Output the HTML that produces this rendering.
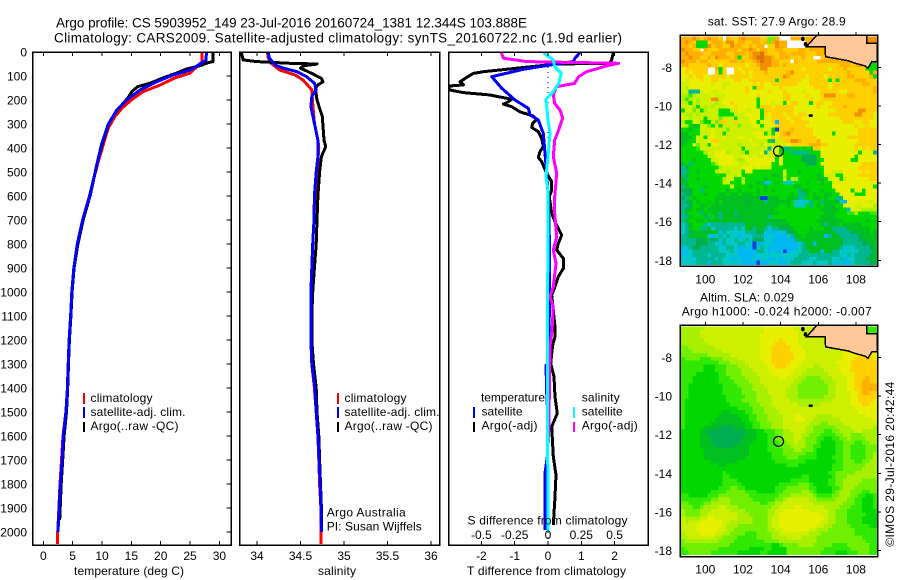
<!DOCTYPE html>
<html lang="en">
<head>
<meta charset="utf-8">
<title>Argo profile CS 5903952_149</title>
<style>
html,body{margin:0;padding:0;background:#fff;width:900px;height:580px;overflow:hidden}
svg{display:block}
text{font-family:"Liberation Sans",sans-serif;font-size:12px;fill:#000}
</style>
</head>
<body>
<svg id="chart" xmlns="http://www.w3.org/2000/svg" width="900" height="580" viewBox="0 0 900 580">
  <text x="56" y="27.5" style="font-size:13.5px" textLength="471" lengthAdjust="spacing">Argo profile: CS 5903952_149 23-Jul-2016 20160724_1381 12.344S 103.888E</text>
  <text x="54" y="42.5" style="font-size:13.5px" textLength="568" lengthAdjust="spacing">Climatology: CARS2009. Satellite-adjusted climatology: synTS_20160722.nc (1.9d earlier)</text>

  <g id="heat-sst"></g>
  <g id="heat-sla"></g>
  <g id="marks"></g>

  <text x="74" y="575" textLength="110">temperature (deg C)</text>
  <text x="318" y="575" textLength="38">salinity</text>
  <text x="467" y="575" textLength="159">T difference from climatology</text>
  <text x="467.5" y="524.5" textLength="160">S difference from climatology</text>

  <text x="90.5" y="402" textLength="62">climatology</text>
  <text x="90.5" y="416" textLength="95">satellite-adj. clim.</text>
  <text x="90.5" y="430" textLength="88">Argo(..raw -QC)</text>
  <rect x="83" y="393" width="2" height="11" fill="#f00"/>
  <rect x="83" y="407" width="2" height="11" fill="#00f"/>
  <rect x="83" y="422" width="2" height="10" fill="#000"/>

  <text x="344.5" y="402" textLength="62">climatology</text>
  <text x="344.5" y="416" textLength="95">satellite-adj. clim.</text>
  <text x="344.5" y="430" textLength="88">Argo(..raw -QC)</text>
  <rect x="337" y="393" width="2" height="11" fill="#f00"/>
  <rect x="337" y="407" width="2" height="11" fill="#00f"/>
  <rect x="337" y="422" width="2" height="10" fill="#000"/>
  <text x="326.7" y="516.7" textLength="79">Argo Australia</text>
  <text x="326.7" y="530.7" textLength="95">PI: Susan Wijffels</text>

  <text x="481" y="401.7" textLength="64">temperature</text>
  <text x="481.5" y="415.7" textLength="41">satellite</text>
  <text x="481.5" y="429.7" textLength="56">Argo(-adj)</text>
  <rect x="473" y="407" width="2" height="11" fill="#00f"/>
  <rect x="473" y="422" width="2" height="10" fill="#000"/>
  <text x="581.7" y="401.7" textLength="38">salinity</text>
  <text x="581.7" y="415.7" textLength="41">satellite</text>
  <text x="581.7" y="429.7" textLength="56">Argo(-adj)</text>
  <rect x="573" y="407" width="2" height="11" fill="#0ff"/>
  <rect x="573" y="422" width="2" height="10" fill="#f0f"/>

  <text x="707.7" y="25.7" textLength="138">sat. SST: 27.9 Argo: 28.9</text>
  <text x="700" y="301.7" textLength="94">Altim. SLA: 0.029</text>
  <text x="681.7" y="315.7" textLength="190">Argo h1000: -0.024 h2000: -0.007</text>
  <text transform="translate(894,546.7) rotate(-90)" textLength="165">©IMOS 29-Jul-2016 20:42:44</text>
</svg>
<script>
/* ---------- depth-profile data ---------- */
var depthTicks = [0,100,200,300,400,500,600,700,800,900,1000,1100,1200,1300,1400,1500,1600,1700,1800,1900,2000];
var tempTicks = [0,5,10,15,20,25,30];
var salTicks = [34,34.5,35,35.5,36];
var salTickLabels = ['34','34.5','35','35.5','36'];
var tDiffTicks = [-2,-1,0,1,2];
var sDiffTicks = [-0.5,-0.25,0,0.25,0.5];
var sDiffTickLabels = ['-0.5','-0.25','0','0.25','0.5'];
var lonTicks = [100,102,104,106,108];
var latTicks = [-8,-10,-12,-14,-16,-18];

var climTDepth = [0,40,67,88,108,138,165,200,234,269,317,387,471,596,700,800,900,1000,1100,1200,1300,1400,1500,1600,1700,1800,1900,2000,2050];
var climTValue = [27.0,27.05,25.9,25,22.4,19.9,17,15,13.4,12.2,11.05,10.2,9.2,7.9,6.7,5.8,5.2,4.85,4.65,4.4,4.25,4.1,3.85,3.35,3.1,2.85,2.65,2.45,2.45];
var satTDepth = [0,35,46,75,96,124,158,200,242,304,387,471,596,700,800,900,1000,1100,1200,1300,1400,1500,1600,1700,1800,1900,2000];
var satTValue = [27.8,27.7,27,25,22.1,19.3,16.5,14.2,12.5,11,9.9,9.1,7.95,6.7,5.8,5.2,4.85,4.65,4.4,4.25,4.1,3.85,3.4,3.2,2.9,2.7,2.5];
var argoTDepth = [0,40,45,57,71,88,108,130,144,165,192,221,248,296,360,450,596,700,800,900,1000,1100,1200,1300,1400,1500,1600,1700,1800,1950];
var argoTValue = [28.9,28.9,28,26.7,24.4,22.7,20.4,18.2,16.1,15.1,14.4,13.35,12.4,11.2,10.3,9.3,8,6.8,5.9,5.25,4.9,4.7,4.45,4.3,4.15,3.95,3.55,3.3,3.05,2.8];

var climSDepth = [0,25,46,75,96,117,158,214,297,367,400,500,600,700,800,900,1000,1100,1200,1300,1400,1500,1600,1700,1800,1900,2050];
var climSValue = [34.12,34.13,34.16,34.26,34.44,34.53,34.63,34.64,34.66,34.7,34.71,34.69,34.67,34.655,34.64,34.63,34.62,34.62,34.62,34.63,34.66,34.68,34.7,34.71,34.72,34.735,34.735];
var satSDepth = [0,25,54,67,82,103,130,158,186,228,297,367,436,500,600,700,800,900,1000,1100,1200,1300,1400,1500,1600,1700,1800,1900,2000];
var satSValue = [34.13,34.14,34.21,34.3,34.46,34.57,34.66,34.68,34.63,34.62,34.66,34.7,34.7,34.68,34.66,34.655,34.64,34.63,34.62,34.62,34.62,34.63,34.665,34.68,34.7,34.715,34.725,34.735,34.74];
var argoSDepth = [0,33,40,47,50,58,67,89,110,124,137,151,200,269,367,394,436,500,600,700,800,900,1000,1100,1200,1300,1400,1500,1600,1700,1800,1900,2000];
var argoSValue = [33.82,33.84,34,34.38,34.69,34.53,34.5,34.63,34.74,34.76,34.7,34.67,34.69,34.75,34.77,34.79,34.74,34.72,34.7,34.69,34.68,34.66,34.64,34.63,34.63,34.65,34.68,34.69,34.71,34.72,34.73,34.74,34.74];

var diffTArgoDepth = [3,33,47,50,82,89,110,124,137,142,158,169,179,197,207,217,228,249,267,281,297,314,332,360,394,415,439,457,506,540,575,603,672,707,763,797,825,860,902,936,978,1013,1075,1145,1186,1221,1297,1353,1436,1506,1561,1686,1762,1853,1971];
var diffTArgoValue = [1.96,1.91,1.86,0.26,-1.94,-2.24,-2.49,-2.64,-2.54,-2.99,-2.96,-2.54,-1.74,-1.09,-1.19,-1.34,-1.09,-0.84,-0.44,-0.34,-0.46,-0.49,-0.29,-0.19,-0.14,-0.24,-0.29,-0.19,-0.04,0.11,0.11,0.04,0.11,0.21,0.41,0.31,0.26,0.46,0.46,0.31,0.21,0.11,0.16,0.21,0.21,0.14,0.08,0.18,0.21,0.28,0.11,0.16,0.24,0.21,0.16];
var diffTSatDepth = [3,26,40,54,72,103,151,200,235,262,283,339,422,506,603,770,825,1089,1297,1305,1422,1561,1686,1755,1992];
var diffTSatValue = [0.96,0.81,0.76,0.06,-0.74,-1.69,-1.39,-0.99,-0.59,-0.54,-0.29,-0.14,-0.09,-0.04,0.01,0.04,0.04,0.04,0.02,-0.06,-0.04,0.01,-0.02,-0.09,-0.09];
var diffSSatDepth = [3,33,61,89,131,165,197,283,339,436,520,575,770,1200,2000];
var diffSSatValue = [-0.035,0.04,0.05,0.1,0.08,0.04,-0.015,0,0.015,0,-0.015,0,0,-0.005,0];
var diffSArgoDepth = [3,26,40,47,54,82,103,131,144,179,214,242,276,325,367,436,506,603,672,770,825,881,978,1020,1061,1159,1228,1436,1600];
var diffSArgoValue = [-0.35,-0.335,-0.16,0.53,0.465,0.29,0.23,0.2,0.065,0.04,0.05,0.09,0.11,0.08,0.05,0.04,0.065,0.05,0.05,0.065,0.04,0.06,0.04,0.015,0.04,0.03,0.015,0.01,0.005];

/* ---------- map data: one letter per cell, ordered low to high on the colour ramp, w = no data ---------- */
var sstRows = [
"lllmlklmllkwlkklmllllkkhhlwwwlllklllllllllllllllmmmm",
"lmlkgggklllkmmkllkkllklhlmllwwwwwlllllllllllllllmmmm",
"llklgggmkllkkmllkklkllwkkmllwwwwwmllllllllllllllllmm",
"mllkkwlkkklllllkllmlkllkkllkkkkllkllllllllllllllllll",
"lmllllkkllllkklllklmmnlkkkllkllllkkkllllllllllllllll",
"llmllkklkmlllklgkklmnnmmlklllkkklkkwwklllllllllllllll",
"mlllkllkkkkkkllklkklmnmmllkkkwlkkkkklllllllllllllllm",
"llkkkkklkkjkkkkkkjkklmmmllklkkkkkkkkkkkkkklllklllggg",
"jkkkkkkwwlgkwwkjkkkkkmmkkkkkkkkkjkkkkkkjkkklkkkkkggg",
"jkjkkkkwwkgkwwkkjkjkkklkkkkklmkkkkkkkkkkkkkklkkkkkgl",
"jjkjkkjjkkkkjkkkkkjkkkkkkkkmlkkkkjkkkkjkkkkkllkkkklg",
"jijjjkjjkkjjjjkkjjkkkkkkkgkkkkkkjjkkkkkgkgkkkklllkkk",
"iijjjjjjijjiijjjjjjkjkjjkkkkkkkjjjkkkkkjkkkkkkkkllkk",
"iqjjjjjjjjjijjjjjkjgkkjjjjkjjjjjjjjkkkkjkkkkkkkkkkkl",
"iidddijjiijjjjjjjkjjjjjkjjjkjjjjijjjjkkkkkjjkkkkkkkl",
"qqpqiiiijiiijjjjjjjjkjjjjjjkkjjjjkjjjkmmmkkkllkkkkkk",
"qpqiqiiimmijjjjjjjjjgjjjjjjkkjjjjjkjjkkkkkkkkkkkkkkk",
"iqgiqiiiiqijjkjjjjjjgjjjijjgjkkjjjgjkkjjkkkkkkkkkkkk",
"iiiqgiqiqiiijjkjjjjjgkkkjkkkkkjjjjjjkjjkkkklkkkkkkkk",
"giihigqiiigggiijjiijjgkkkkkkkkjjjjjjjjjjjkkkkkkmmkkk",
"iqqiqiiiiiggggiiijjjjgkjkkkjkkjkkjjjjjjkkkkkkkmmkkkj",
"iiqiiigiiihiiigiiijjjgijkkkkjkkkjjjjjjjjjjkkkkkkkkkj",
"qggiihggihkkiikiiijjgijjkbkkkjkkkkjjjjjjjjjkkkjjkkjj",
"iqgffiihgigiiiihiiijjgijjkkkkkkkkjjjjjjjjjjjjjkjjkjj",
"ggfggiiijiiihiiiiiiiiijigakkklkkkkkjjjjjjjjjjjjkkkkk",
"ffgggiiijiigiiiiiiijjjgigjklmkkkkkkjjjjjgjjjjjjkkkkk",
"fffgiigjjiijiiijjiiijjjjkjkkkkkkkkkkjjjjjjjjkkkkkkkk",
"ffggiiijkkiiiiiiiijiiiigdiikkmmlkkkkljjjjjjjjjjkkkkk",
"fggihiigjjiiiiiqiiijiqjiiiiijkkkkklllkkjjjjjjjkkkkkk",
"ggggpiiiiiiiiiiigiiiiiidjjgddggggggkkjjjjjjjjjkjkjkk",
"ggggggqiijjjqiiiqgiiijdiijgggdddddgggjjjjjjjjjjgjjjd",
"gggggggiijjjjjiijjijiijiigjgggggeeeegjjjjjjjjjgjjjjj",
"gggfggggiijjjjiqqjjjjjjjjgjgggggeeeeggjjjjjjjggjjjjj",
"fgdgggggpqjjjjjiiijjjjjjggjggggggeeegjjjjjjjjjjjkkkk",
"deggggggggqiiiiijjjijiiiggggggggggggggjjjjjjjjjkkkkk",
"ddggfggggqiiqiiigjjggggggggigggfggggggjjiiijjjjjkjkk",
"dfggggggggggiiqjggggggggffgiggggggggfgiiiggjjjjkkkkk",
"fdggfggggggqiiggqgggggfggggigqqgggggffgijjgijjjjjjkk",
"ffgggggggggiigggqgggffbcgfgcccgggfgggfggijjjjjjjjjjj",
"dfggggfggggggiggggfgggfgggggggffggggggggjjjjjjjjjjjg",
"eeeggdggggggfggfggggfgfgfggggggdffgggfgggjjjjgjjgjjj",
"deegggfgggffgffgfffgfggggggggfgddfgfggffggjjjjgggjjj",
"edgfgggggffffffffffffaafffggfffddggffgfggddjjjjjjjjj",
"deegfggfgfgffffffeffffdffffffgccccdggdffffcbjjjjjiij",
"ddeggffgffffffffffffffffffggfgcccgdgfgfffggjjjiijjjq",
"defgffgffffffffffffffffffggggggggggggfffffggbjiiqqqq",
"dfgggdfgffdfffdfffffffffffggggggggggggfffgggppqgggpp",
"ddfgggfdgfdffffefffffffdgggggggggggggffffgggggggggg",
"dfggffgffffffffffffffffffeffggggggggfffffffggggggfgg",
"cdfgggdcdddddddddffffffdfffffggggggggfdfffgfffffggg",
"cdfggddfcdddddcdcffdffdcddeeefggggfgggffddddffffffgg",
"cdefffffffbdcccccdddeecbbbcbeefgggfffffffddddeefffgf",
"ddfffffcbcdcdccbcccdddbccbbbcdffgfffffbdffdddddeffff",
"ddddeefdeecdccdccdceeeccbbbbbbdffffffffffffddddeefff",
"ddddeeeddcbdcccddccabbccbbbbbbbcdffbfffffffdddddeeff",
"bcdeedddddccddcbbcbacdcbbbbbbbbcdfffffffffdcccddddef",
"bbcdddddddcccdcbbbbbddcbcbbabbccddfffbffddcccccddddf",
"bccddddcddddcccbbbbbcccccccccccdddddddddddccdcddddef",
"ccccdddddcdccbbcbbbcbccbbcbcccddddccddddccdbccdddeef",
"ccccdddbdddcccccbbbbabbcccbbcdddcccdcccdcbcbbcddddee"
];
var slaRows = [
"qqqqqqiiiiiiiiiiiiiiiijjjjjjjjiiiiiiiijjjjjjjjjjpppp",
"qqqqqiiiiiiiiiiiiiiiiijjjjjjjjjiiiiiiijjjjjjjjjjpppp",
"qqqqqiiiiiiiiiiiiiiiijjjjjjjjjjiiiiiiijjjjjjjjjjjppp",
"qqqqqqiiiiiiiiiiiiiiijjjjjkjjjjiiiiiiiiijjjjjjjjjjjj",
"qqqqqqqiiiiiiiiiiiiiijjjjkkkjjjiiiiiiiiijjjjjjjjjjjj",
"hhqqqqqqqiiiiiiiiiiiijjjkkkkkjjjiiiiiiiiijjjjjjjjjjj",
"hhhqqqqqqqqiiiiiiiiiijjjkkkkkjjjjiiiiiiiiiijjjjjjjjj",
"hhhhhhhqqqqqqiiiiiiiijjjkkkkkkjjjiiiiiiiiiijjjjkkkjj",
"phhhhppphhhqqqqiiiiiijjjkkkkkkjjjiiiiiiiiiijjjkkkkkj",
"pppppppppphhhqqqqiiiiijjkkkkkjjjiiiiiiiiijjjjkkkkkkk",
"ppppppgggppphhhqqqiiiiijjkkkjjjiiiiqqiiiiijjjkkkkkkk",
"ppppppgggppphhhhqqqiiiijjjjjjjiiiqqqqqiiiijjjkkkkkkk",
"ppppggggggpphhhhqqqqiiiijjjjjiiiqqqqqqqiiiijjjkkkkkk",
"pppgggggggppphhhhqqqqiiiiijjiiiqqhhhhqqqiiiijjkkklkk",
"pppgggggggpppphhhhqqqiiiiiiiiiqqhhhhhhqqqiiijjkkllkk",
"ppgggggggggpppphhhhqqqiiiiiiiqqhhhhhhhhqqiiijjkkllll",
"ppgggggggggppppphhhqqqqiiiiiqqqhhhhhhhhqqiiijjkkllll",
"ppgggggggggppppphhhhqqqiiiiiqqqhhhhhhhhqqiiiijjkllkk",
"ppggggggggggppppphhhqqqqiiiiqqqhhhhhhhqqqiiiijjkkkkk",
"pgggggggggggpppphhhhqqqqiiiiiqqqqqqqqqqqiiiiijjkkkkj",
"pggggggggggggppppphhhqqqiiiiiiiqqqqqqiiiiiiiijjjkkjj",
"pggggggggggggggpppphhhqqqiiiiiiiiiiiiiiiiiiiiijjjjjj",
"pggggggggggffggggpphhhqqqqiiiiiiiiiiiiiiiiiiiiijjjjj",
"pgggggggggfffffgggpphhhqqqqiiijjiiiiqqqqiiiiiiiiijjj",
"pggggggggfffffffggpphhhqqqqiiijjjiiqqqqqqqiiiiiiiiij",
"pgggggggfffffffffggpphhhqqqiiiiiiiqqqhhqqqqiiiiiiiii",
"pgggggffffeeeefffggpphhhqqqiiiiiiqqhhhhhhqqqqiiiiiiq",
"gggggffeeeeeeeeeefffggppphhqqiiiiqqhhhpphhqqqqiiqqqq",
"gggggffeeeeeeeeeefffgggpphhqqqiiqqhhhpppphhqqhhhqqqq",
"gggggfffeeeeeeeeffffgggpphhqqqiiqhhhppggpphhqhhhhqqq",
"gggggfffeeeeeeeefffggggppphhqqiqqhhhpggggpphhhpphhqq",
"gggggffffeeeeeffffgggggppphhhqqqqhhppggggpphhpppphhh",
"ggggggffffffffffffgggggpppphhhqqhhhpgggggpphhpppphhh",
"ggggggffffffffffffggggggppphhhhhhpppgggggpphhpppphhq",
"ggggggfffffffffffgggggggpppphhhpppppggggppphhpppphhq",
"ggggggggfffffffggggggggggppppppppggggggggpphhhpphhqq",
"ggggggggggffggggggggggggggggpppgggggggggppphhhhhhqqq",
"ggggggggggggggggggggggggggggggggggggggggppphhhhhqqqq",
"gggggggggggpgggggggggggggggggggggggggggpphhhhhqqqqqq",
"gggggggggggppgggggggggggggggggggppggggggphhhqqqqqqqq",
"gggggggggggppppggggggggggggggpppppgggggpphhqqqqqhhhh",
"gggggggggggpppppggggggggggppppphhhpggggpphhqqqqhhhhh",
"ggggggggggppphhppggggggggppphhhhhhppggggpphqqqhhhhhh",
"ggggggggpppphhhhhpppgggggpphhhhhqqhpggggphqqqhhhpphh",
"ppgggggppphhhhhhhhpppppppphhhqqqqqqhpppphhqqqhhppggp",
"pppppppphhqqqhhhhhhpppppphhqiiiiiiqqhhhhhqqqhhppgggp",
"hhpppphhqqqqqhhhhhhhhpphhqqiiiiiiiiqqqqqqqqhhhppgggp",
"hhhpphqqqqiiqqqhhhhhhhhhqqiiiijjiiiiiiqqqqhhhpppgggp",
"qhhhhqqqiiiiiqqqqhhhhhhqqiijjjjjjjiiiiiqqhhhppppgggg",
"qhhhhqqiiiiiiiiqqqhhhhhqqijjjjjjjjjjjiiqqhhhpppppggg",
"iqqqqiijjiiiiiiqqqqhhhhqiijjjjjjjjjjjjiqqhhhppppgggg",
"iqiiijjjjjjiiqqqqqqhhhhqiijjjjjjjjjjjiiqqhhhppppgggg",
"iiiijjjjjjjiqqqhhhhhhhhqiijjjjjjjjjjiiqqhhhhhpppppgg",
"iiiijjjjjjiiqqhhhhhhhhhqqiijjjjjjjiiqqqhhhhhhhpppppp",
"qiiiijjjjiiqqhhhhppphhhhqqiiiiiiiiqqqhhhhhhhhhpppppp",
"qqiiiiiiiqqhhhhppppphhhhqqqqiiiiqqqqhhhhhhhhhhhhpppp",
"hqqqqqqqqqhhhhpppppppphhhhqqqqqqqqqqhhhhhhhhhhhhhppp",
"hhhhhhhhhhhhhpppppppppppggphhhhqqqqhhhhhpppphhhhhhpp",
"phhhhhhhhhppppppppggggppgggghhhhhhhhhhppppppphhhhhpp",
"pphhhhhhpppppppggggggppggggghhhhhhhhhppppgggppphhhpp"
];
var coastLon = [105.92,105.38,106.36,106.39,107.58,107.95,108.48,108.64,108.84,109.13,109.13,108.57,108.57];
var coastLat = [-6.33,-6.93,-6.93,-7.45,-7.66,-7.79,-7.93,-8.04,-7.71,-7.71,-6.76,-6.76,-6.33];
var fragmentLon = [105.18,105.32];
var fragmentLat = [-6.53,-6.8];
var floatLon = 103.888;
var floatLat = -12.344;
var islandLon = 105.6;
var islandLat = -10.5;

/* ---------- axis functions ---------- */
function yDepth(d){return 52+0.24*d;}
function xTemp(t){return 43.3+5.87*t;}
function xSal(s){return 257+87*(s-34);}
function xTDiff(v){return 548+33.3*v;}
function xSDiff(v){return 548+133.2*v;}
function xLon(l){return 705.3+18.83*(l-100);}
function yLatSst(l){return 67.3+19.3*(-8-l);}
function yLatSla(l){return 357.5+19.3*(-8-l);}

var rampLetters = 'abcdefgphqijklmn';
var rampColors = ['#0040d8','#00b8f0','#00c8c8','#00b890','#00b050','#00c020','#00d800','#30e800','#70f000','#a8f000','#ccf000','#e8f000','#ffd000','#ffb000','#f09000','#e07000'];
function cellColor(ch){return rampColors[rampLetters.indexOf(ch)];}

var NS = 'http://www.w3.org/2000/svg';
var root = document.getElementById('marks');
function add(tag, attrs, name, parent){
  var el = document.createElementNS(NS, tag);
  for (var k in attrs){ el.setAttribute(k, attrs[k]); }
  
  
  (parent || root).appendChild(el);
  return el;
}
function label(str, x, y, anchor, name){
  var t = add('text', {x:x, y:y, 'text-anchor':anchor}, name);
  t.textContent = str;
  return t;
}
function curve(depths, values, xf, color, width, name){
  var pts = [];
  for (var i = 0; i < depths.length; i++){
    pts.push(xf(values[i]).toFixed(1) + ',' + yDepth(depths[i]).toFixed(1));
  }
  add('polyline', {points:pts.join(' '), fill:'none', stroke:color, 'stroke-width':width, 'clip-path':'url(#' + name.split('-')[0] + '-clip)', 'shape-rendering':'crispEdges', 'stroke-linejoin':'round'}, name);
}
function heat(rows, gid, y0, name){
  var g = document.getElementById(gid);
  var cw = 196/52, ch = 3.8;
  rows.forEach(function(row, r){
    for (var c = 0; c < 52; c++){
      var v = row.charAt(Math.min(c, row.length - 1));
      if (v === 'w') continue;
      add('rect', {x:(681+c*cw).toFixed(2), y:(y0+r*ch).toFixed(2), width:(cw+0.4).toFixed(2), height:(ch+0.4).toFixed(2), fill:cellColor(v), 'shape-rendering':'crispEdges'}, name, g);
    }
  });
}
heat(sstRows, 'heat-sst', 36.5, 'sst-cell');
heat(slaRows, 'heat-sla', 326.5, 'sla-cell');

/* clip regions for the profile panels */
var defs = document.createElementNS(NS, 'defs');
root.appendChild(defs);
[['temp',32,231],['sal',239.5,439.5],['diff',448.5,648]].forEach(function(p){
  var cp = document.createElementNS(NS, 'clipPath');
  cp.setAttribute('id', p[0] + '-clip');
  var r = document.createElementNS(NS, 'rect');
  r.setAttribute('x', p[1]); r.setAttribute('y', 52);
  r.setAttribute('width', p[2]-p[1]); r.setAttribute('height', 493);
  cp.appendChild(r); defs.appendChild(cp);
});

/* temperature panel */
curve(climTDepth, climTValue, xTemp, '#f00', 3, 'temp-climatology-line');
curve(argoTDepth, argoTValue, xTemp, '#000', 3, 'temp-argo-line');
curve(satTDepth, satTValue, xTemp, '#00f', 3, 'temp-satellite-line');
/* salinity panel */
curve(climSDepth, climSValue, xSal, '#f00', 3, 'sal-climatology-line');
curve(argoSDepth, argoSValue, xSal, '#000', 3, 'sal-argo-line');
curve(satSDepth, satSValue, xSal, '#00f', 3, 'sal-satellite-line');
/* difference panel */
add('line', {x1:xTDiff(0), x2:xTDiff(0), y1:52, y2:545, stroke:'#000', 'stroke-width':1, 'stroke-dasharray':'1 4', 'shape-rendering':'crispEdges'}, 'zero-difference-line');
curve(diffTArgoDepth, diffTArgoValue, xTDiff, '#000', 3, 'diff-t-argo-line');
curve(diffTSatDepth, diffTSatValue, xTDiff, '#00f', 3, 'diff-t-satellite-line');
curve(diffSArgoDepth, diffSArgoValue, xSDiff, '#f0f', 3, 'diff-s-argo-line');
curve(diffSSatDepth, diffSSatValue, xSDiff, '#0ff', 3, 'diff-s-satellite-line');

/* panel frames */
function frame(x, y, w, h, name){
  add('rect', {x:x, y:y, width:w, height:h, fill:'none', stroke:'#000', 'stroke-width':1.5, 'shape-rendering':'crispEdges'}, name);
}
frame(32.5, 52, 198.5, 493, 'temperature-panel-frame');
frame(239.5, 52, 200, 493, 'salinity-panel-frame');
frame(448.5, 52, 199.5, 493, 'difference-panel-frame');

/* depth axis */
depthTicks.forEach(function(d){
  label(String(d), 27, yDepth(d)+4.5, 'end', 'depth-tick-label');
  add('line', {x1:226.5, x2:231, y1:yDepth(d), y2:yDepth(d), stroke:'#000', 'shape-rendering':'crispEdges'}, 'depth-tick');
});
function xAxis(ticks, labels, xf, name){
  ticks.forEach(function(v, i){
    var x = xf(v);
    add('line', {x1:x, x2:x, y1:52, y2:56, stroke:'#000', 'shape-rendering':'crispEdges'}, name + '-top-tick');
    add('line', {x1:x, x2:x, y1:541, y2:545, stroke:'#000', 'shape-rendering':'crispEdges'}, name + '-bottom-tick');
    label(labels[i], x, 560, 'middle', name + '-tick-label');
  });
}
xAxis(tempTicks, tempTicks.map(String), xTemp, 'temperature');
xAxis(salTicks, salTickLabels, xSal, 'salinity');
xAxis(tDiffTicks, tDiffTicks.map(String), xTDiff, 't-difference');
sDiffTicks.forEach(function(v, i){
  label(sDiffTickLabels[i], xSDiff(v), 539, 'middle', 's-difference-tick-label');
});

/* maps */
function mapFrame(top, bottom, latFn, labelY, prefix){
  var pts = [];
  for (var i = 0; i < coastLon.length; i++){
    pts.push(xLon(coastLon[i]).toFixed(1) + ',' + latFn(coastLat[i]).toFixed(1));
  }
  add('polygon', {points:pts.join(' '), fill:'#ffc896', stroke:'#000', 'stroke-width':1.5, 'shape-rendering':'crispEdges'}, prefix + '-land');
  add('ellipse', {cx:xLon(islandLon), cy:latFn(islandLat), rx:2.2, ry:1.4, fill:'#000'}, prefix + '-island');
  fragmentLon.forEach(function(lon, i){
    add('ellipse', {cx:xLon(lon), cy:latFn(fragmentLat[i]), rx:1.8, ry:2.2, fill:'#000'}, prefix + '-coast-fragment');
  });
  add('circle', {cx:xLon(floatLon), cy:latFn(floatLat), r:5, fill:'none', stroke:'#000', 'stroke-width':1.2}, prefix + '-float-marker');
  add('rect', {x:680, y:top, width:197.5, height:bottom-top, fill:'none', stroke:'#000', 'stroke-width':1.5, 'shape-rendering':'crispEdges'}, prefix + '-frame');
  lonTicks.forEach(function(l){
    add('line', {x1:xLon(l), x2:xLon(l), y1:top-3, y2:top, stroke:'#000', 'shape-rendering':'crispEdges'}, prefix + '-lon-tick');
    label(String(l), xLon(l), labelY, 'middle', prefix + '-lon-label');
  });
  latTicks.forEach(function(l){
    add('line', {x1:877.5, x2:881, y1:latFn(l), y2:latFn(l), stroke:'#000', 'shape-rendering':'crispEdges'}, prefix + '-lat-tick');
    label(String(l), 672, latFn(l)+4.5, 'end', prefix + '-lat-label');
  });
}
mapFrame(35, 266, yLatSst, 283.3, 'sst-map');
mapFrame(325, 556.7, yLatSla, 573.3, 'sla-map');
</script>
</body>
</html>
